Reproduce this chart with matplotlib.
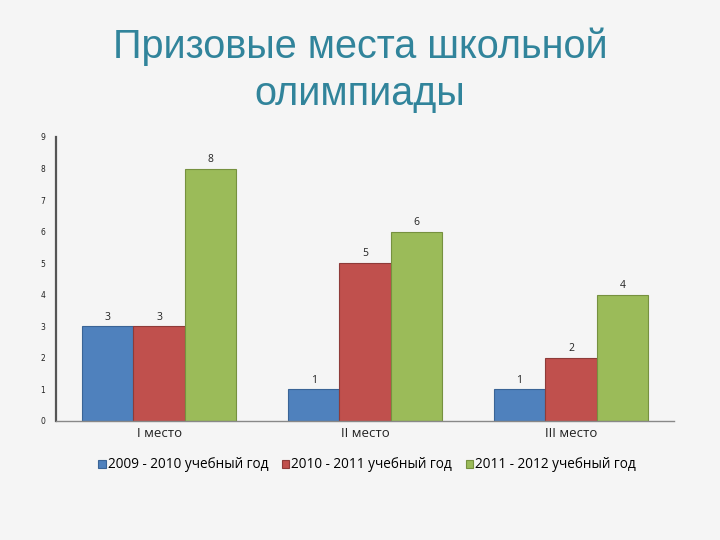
import matplotlib
matplotlib.use("Agg")
import matplotlib.pyplot as plt
import numpy as np

# data
places = ["I место", "II место", "III место"]
series = ["2009 - 2010 учебный год", "2010 - 2011 учебный год", "2011 - 2012 учебный год"]
y2009 = [3, 1, 1]
y2010 = [3, 5, 2]
y2011 = [8, 6, 4]
colors = ["#4f81bd", "#c0504d", "#9bbb59"]
edges = ["#3a6496", "#8e3b39", "#76913f"]

bg = "#f5f5f5"
fig = plt.figure(figsize=(7.2, 5.4), dpi=100, facecolor=bg)
ax = fig.add_axes([0.078, 0.2204, 0.858, 0.5259])
ax.set_facecolor(bg)

x = np.arange(len(places))
w = 0.25
for i, vals in enumerate([y2009, y2010, y2011]):
    bars = ax.bar(x + (i - 1) * w, vals, w, color=colors[i], edgecolor=edges[i],
                  linewidth=0.8, label=series[i])
    for b, v in zip(bars, vals):
        ax.text(b.get_x() + b.get_width() / 2, v + 0.12, str(v), ha="center", va="bottom",
                fontsize=7.5, family="Open Sans", color="#222222")

ax.set_xlim(-0.5, 2.5)
ax.set_ylim(0, 9)
ax.set_yticks(range(10))
ax.set_xticks(x)
ax.set_xticklabels(places, fontsize=9.5, family="Open Sans", color="#222222")
ax.tick_params(axis="y", labelsize=5.5, length=0, pad=8, labelcolor="#222222")
ax.tick_params(axis="x", length=0, pad=4)
for s in ["top", "right"]:
    ax.spines[s].set_visible(False)
ax.spines["left"].set_color("#555555")
ax.spines["left"].set_linewidth(1.6)
ax.spines["bottom"].set_color("#888888")
ax.spines["bottom"].set_linewidth(1.0)

leg = fig.legend(loc="center", bbox_to_anchor=(0.51, 0.139), ncol=3, frameon=False,
                 prop={"family": "Open Sans", "size": 9.8}, handlelength=0.55, handleheight=0.55,
                 handletextpad=0.15, columnspacing=1.0)

fig.text(0.5, 0.87, "Призовые места школьной\nолимпиады", ha="center", va="center",
         fontsize=28.5, color="#31849b", family="Liberation Sans", linespacing=1.3)

fig.savefig("out.png", dpi=100, facecolor=bg)
